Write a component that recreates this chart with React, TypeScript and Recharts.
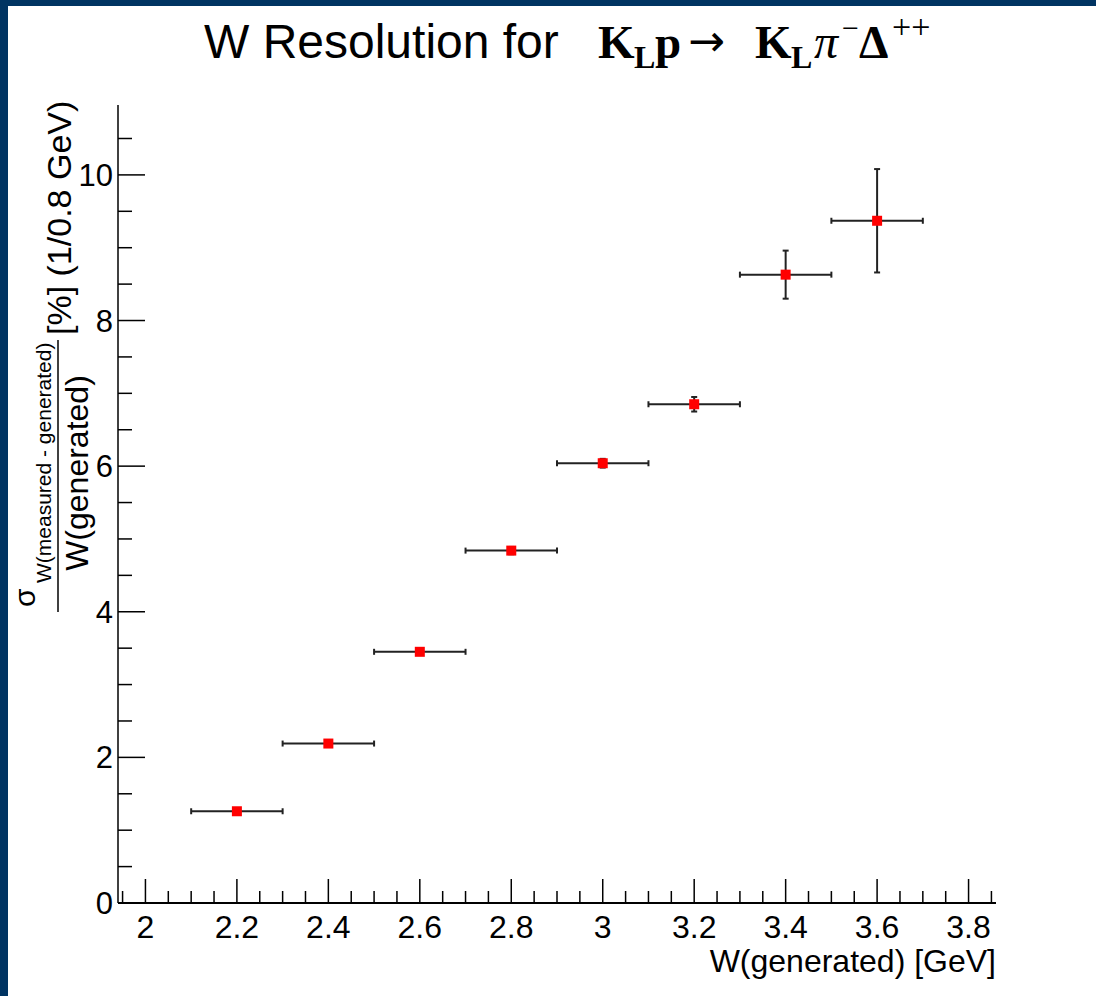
import React from "react";
import {
  ScatterChart,
  Scatter,
  XAxis,
  YAxis,
  ErrorBar,
} from "recharts";

// W(generated) bin centres [GeV]
const wGenerated = [2.2, 2.4, 2.6, 2.8, 3.0, 3.2, 3.4, 3.6];
// sigma / W [%]
const resolution = [1.26, 2.19, 3.45, 4.84, 6.04, 6.85, 8.63, 9.37];
const resolutionErr = [0.03, 0.04, 0.04, 0.05, 0.06, 0.1, 0.33, 0.71];
const binHalfWidth = [0.1, 0.1, 0.1, 0.1, 0.1, 0.1, 0.1, 0.1];

const xMajorTicks = [2, 2.2, 2.4, 2.6, 2.8, 3, 3.2, 3.4, 3.6, 3.8];
const yMajorTicks = [0, 2, 4, 6, 8, 10];

const data = wGenerated.map((w, i) => ({
  w,
  res: resolution[i],
  yerr: resolutionErr[i],
  xerr: binHalfWidth[i],
}));

const X_DOMAIN: [number, number] = [1.94, 3.86];
const Y_DOMAIN: [number, number] = [0, 10.96];

// minor ticks: 4 per 0.2 on x, 4 per 2 on y
const xTicks: number[] = [];
for (let i = 0; i <= 38; i++) xTicks.push(Math.round((1.95 + i * 0.05) * 100) / 100);
const yTicks: number[] = [];
for (let i = 0; i <= 21; i++) yTicks.push(i * 0.5);

const isMajor = (v: number, majors: number[]) =>
  majors.some((m) => Math.abs(m - v) < 1e-6);

const FONT = "'Liberation Sans', Arial, Helvetica, sans-serif";
const SERIF = "'Liberation Serif', 'Times New Roman', serif";

const XTick = (props: any) => {
  const { x, y, payload } = props;
  const major = isMajor(payload.value, xMajorTicks);
  return (
    <g>
      <line x1={x} x2={x} y1={y} y2={y - (major ? 24 : 12)} stroke="#000" strokeWidth={1.5} />
      {major && (
        <text x={x} y={y + 35} textAnchor="middle" fontSize={32} fontFamily={FONT} fill="#000">
          {String(payload.value)}
        </text>
      )}
    </g>
  );
};

const YTick = (props: any) => {
  const { x, y, payload } = props;
  const major = isMajor(payload.value, yMajorTicks);
  return (
    <g>
      <line x1={x} x2={x + (major ? 27 : 14)} y1={y} y2={y} stroke="#000" strokeWidth={1.5} />
      {major && (
        <text x={x - 5} y={y + 11} textAnchor="end" fontSize={31} fontFamily={FONT} fill="#000">
          {String(payload.value)}
        </text>
      )}
    </g>
  );
};

const XLabel = (props: any) => {
  const vb = props.viewBox;
  return (
    <text x={vb.x + vb.width} y={vb.y + 69} textAnchor="end" fontSize={32} fontFamily={FONT} fill="#000">
      W(generated) [GeV]
    </text>
  );
};

const YLabel = (props: any) => {
  const vb = props.viewBox;
  const px = vb.x;
  const py = vb.y + vb.height;
  // local coords: u = up along the axis, v = to the right
  return (
    <g transform={`translate(${px},${py}) rotate(-90)`} fontFamily={FONT} fill="#000">
      <text x={296} y={35} fontSize={30}>σ</text>
      <text x={320} y={51} fontSize={21}>W(measured - generated)</text>
      <line x1={291} x2={563} y1={58} y2={58} stroke="#000" strokeWidth={1.5} />
      <text x={430} y={88} fontSize={32} textAnchor="middle">W(generated)</text>
      <text x={568} y={71} fontSize={34}>[%] (1/0.8 GeV)</text>
    </g>
  );
};

const Marker = (props: any) => {
  const { cx, cy } = props;
  return <rect x={cx - 5} y={cy - 5} width={10} height={10} fill="#ff0000" />;
};

export default function App() {
  return (
    <div style={{ position: "fixed", left: 0, top: 0, width: 1096, height: 996, background: "#003462" }}>
      <div style={{ position: "absolute", left: 8, top: 6, right: 0, bottom: 0, background: "#fff" }} />
      <svg width={1096} height={100} style={{ position: "absolute", left: 0, top: 0 }}>
        <text x={204} y={58} fontSize={48} fontFamily={FONT} fill="#000">W Resolution for</text>
        <g fontFamily={SERIF} fill="#000">
          <text x={598} y={58} fontSize={47} fontWeight="bold">K</text>
          <text x={634} y={68} fontSize={32} fontWeight="bold">L</text>
          <text x={655} y={58} fontSize={47} fontWeight="bold">p</text>
          <text x={688} y={56} fontSize={44} fontFamily="'DejaVu Sans', sans-serif">→</text>
          <text x={755} y={58} fontSize={47} fontWeight="bold">K</text>
          <text x={791} y={68} fontSize={32} fontWeight="bold">L</text>
          <text x={814} y={58} fontSize={48} fontStyle="italic">π</text>
          <text x={842} y={38} fontSize={30}>−</text>
          <text x={859} y={58} fontSize={47} fontWeight="bold">Δ</text>
          <text x={892} y={38} fontSize={34}>++</text>
        </g>
      </svg>
      <div style={{ position: "absolute", left: 0, top: 0 }}>
        <ScatterChart width={1096} height={996} margin={{ top: 105, right: 100, bottom: 0, left: 0 }}>
          <XAxis
            dataKey="w"
            type="number"
            domain={X_DOMAIN}
            allowDataOverflow
            ticks={xTicks}
            interval={0}
            tickLine={false}
            tickSize={0}
            tickMargin={0}
            axisLine={{ stroke: "#000", strokeWidth: 2 }}
            tick={<XTick />}
            height={93}
            label={<XLabel />}
          />
          <YAxis
            dataKey="res"
            type="number"
            domain={Y_DOMAIN}
            allowDataOverflow
            ticks={yTicks}
            interval={0}
            tickLine={false}
            tickSize={0}
            tickMargin={0}
            axisLine={{ stroke: "#000", strokeWidth: 1.5 }}
            tick={<YTick />}
            width={118}
            label={<YLabel />}
          />
          <XAxis
            xAxisId="top"
            orientation="top"
            type="number"
            domain={[0, 1]}
            height={0}
            tick={false}
            tickLine={false}
            axisLine={{ stroke: "#000", strokeWidth: 1.5 }}
          />
          <YAxis
            yAxisId="right"
            orientation="right"
            type="number"
            domain={[0, 1]}
            width={0}
            tick={false}
            tickLine={false}
            axisLine={{ stroke: "#000", strokeWidth: 1.5 }}
          />
          <Scatter data={data} shape={<Marker />} isAnimationActive={false}>
            <ErrorBar dataKey="xerr" direction="x" width={3} stroke="#222" strokeWidth={2} />
            <ErrorBar dataKey="yerr" direction="y" width={3} stroke="#222" strokeWidth={2} />
          </Scatter>
        </ScatterChart>
      </div>
    </div>
  );
}
